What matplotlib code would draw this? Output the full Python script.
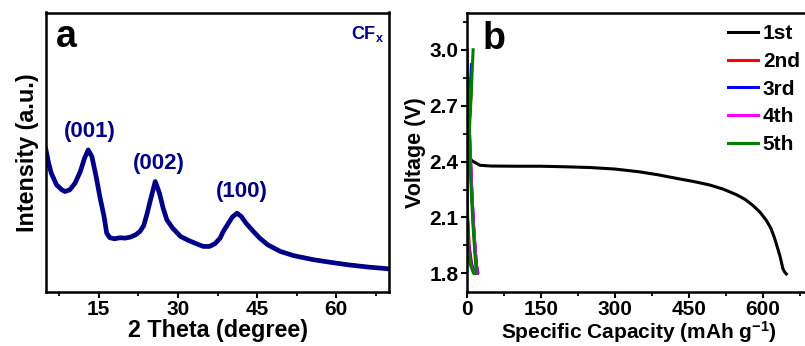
import matplotlib
matplotlib.use("Agg")
import matplotlib.pyplot as plt

plt.rcParams['font.family'] = ['Liberation Sans', 'DejaVu Sans']
plt.rcParams['font.weight'] = 'bold'
plt.rcParams['mathtext.fontset'] = 'custom'
plt.rcParams['mathtext.rm'] = 'Liberation Sans:bold'
plt.rcParams['mathtext.bf'] = 'Liberation Sans:bold'
plt.rcParams['mathtext.default'] = 'bf'

# ---- Panel a: XRD of CFx ----
two_theta = [5, 5.5, 6, 7, 8, 8.6, 9.5, 10.5, 11.5, 12.3, 13, 13.7, 14.5, 15.2, 16, 16.5,
             17.1, 18, 19, 20, 21, 22, 22.8, 23.5, 24.1, 24.8, 25.7, 26.5, 27.2, 27.9, 29,
             30.5, 32, 33.5, 34.8, 36, 37, 38, 38.6, 39.5, 40.3, 41.2, 42, 43, 44.3, 45.5,
             47, 49.4, 52, 55.7, 59, 62.1, 66, 69.7, 70]
intensity = [450, 410, 380, 345, 330, 325, 330, 350, 385, 425, 450, 430, 370, 310, 250, 200,
             186, 183, 186, 185, 188, 195, 205, 222, 255, 300, 355, 320, 275, 240, 215,
             190, 178, 168, 160, 160, 168, 185, 205, 228, 248, 260, 250, 228, 205, 185,
             165, 145, 132, 120, 112, 105, 98, 93, 92]
peak_labels = ['(001)', '(002)', '(100)']
peak_pos = [(13.3, 505), (26.4, 410), (42.1, 325)]

# ---- Panel b: discharge/charge curves ----
cap_1st = [0, 0.5, 2, 5, 10, 27, 50, 100, 150, 200, 250, 300, 350, 390, 425, 460, 493, 520,
           547, 565, 580, 595, 608, 617, 624, 635, 641, 645, 648]
volt_1st = [2.95, 2.7, 2.5, 2.43, 2.405, 2.38, 2.376, 2.375, 2.375, 2.372, 2.368, 2.36,
            2.345, 2.328, 2.31, 2.293, 2.274, 2.252, 2.222, 2.196, 2.165, 2.127, 2.082,
            2.04, 1.99, 1.894, 1.825, 1.805, 1.797]

cap_2nd = [0, 3, 7, 11, 14, 17, 20, 23, 23, 17, 10, 5, 2, 0, 0, 3, 6, 9, 10]
volt_2nd = [3.0, 2.75, 2.45, 2.2, 2.05, 1.93, 1.84, 1.8, 1.8, 1.8, 1.85, 1.95, 2.1, 2.3,
            2.3, 2.5, 2.65, 2.78, 2.9]
cap_3rd = [0, 3, 7, 11, 14, 17, 20, 22, 22, 16, 9, 4, 1.5, 0, 0, 3, 6, 8, 9.5]
volt_3rd = [3.0, 2.75, 2.45, 2.2, 2.05, 1.93, 1.84, 1.8, 1.8, 1.8, 1.85, 1.95, 2.1, 2.3,
            2.3, 2.5, 2.65, 2.8, 2.92]
cap_4th = [0, 3, 7, 11, 14, 17, 19.5, 21.5, 21.5, 15, 8, 3.5, 1, 0, 0, 3, 6, 8, 9]
volt_4th = [3.0, 2.75, 2.45, 2.2, 2.05, 1.93, 1.84, 1.8, 1.8, 1.8, 1.85, 1.95, 2.1, 2.3,
            2.3, 2.5, 2.65, 2.75, 2.78]
cap_5th = [1, 2.5, 6, 10, 13, 16, 18.5, 20, 20, 14, 7, 3, 1, 0, 0, 3, 6, 9, 11, 13]
volt_5th = [2.97, 2.75, 2.45, 2.2, 2.05, 1.93, 1.84, 1.8, 1.8, 1.8, 1.85, 1.95, 2.1, 2.3,
            2.3, 2.45, 2.6, 2.75, 2.88, 3.0]

cycle_labels = ['1st', '2nd', '3rd', '4th', '5th']
cycle_colors = ['black', '#ff0000', '#0000ff', '#ff00ff', '#008000']

fig = plt.figure(figsize=(8.05, 3.46), dpi=100)
axa = fig.add_axes([46/805, 54/346, (389-46)/805, (292-12.5)/346])
axb = fig.add_axes([466.7/805, 54/346, (812-466.7)/805, (292-12.5)/346])

navy = '#000085'
axa.plot(two_theta, intensity, color=navy, lw=3.4)
axa.set_xlim(5, 70)
axa.set_ylim(23, 863)
axa.set_xticks([15, 30, 45, 60])
axa.set_xticks([7.5, 22.5, 37.5, 52.5, 67.5], minor=True)
axa.set_yticks([])
for lab, (px, py) in zip(peak_labels, peak_pos):
    axa.text(px, py, lab, color=navy, fontsize=16, fontweight='bold', ha='center', va='center')
axa.text(0.028, 0.975, 'a', transform=axa.transAxes, fontsize=27, fontweight='bold',
         ha='left', va='top')
axa.text(0.985, 0.96, r'CF$_{x}$', transform=axa.transAxes, fontsize=13, color=navy,
         fontweight='bold', ha='right', va='top')
axa.set_xlabel('2 Theta (degree)', fontsize=16.8, fontweight='bold', labelpad=0)
axa.set_ylabel('Intensity (a.u.)', fontsize=16.8, fontweight='bold', labelpad=5)

caps = [cap_1st, cap_2nd, cap_3rd, cap_4th, cap_5th]
volts = [volt_1st, volt_2nd, volt_3rd, volt_4th, volt_5th]
for c, v, lab, col in zip(caps, volts, cycle_labels, cycle_colors):
    axb.plot(c, v, color=col, lw=2.2, label=lab)
axb.set_xlim(0, 700)
axb.set_ylim(1.7, 3.2)
axb.set_xticks([0, 150, 300, 450, 600])
axb.set_xticks([75, 225, 375, 525, 675], minor=True)
axb.set_yticks([1.8, 2.1, 2.4, 2.7, 3.0])
axb.set_yticks([1.95, 2.25, 2.55, 2.85, 3.15], minor=True)
axb.text(0.045, 0.97, 'b', transform=axb.transAxes, fontsize=27, fontweight='bold',
         ha='left', va='top')
axb.set_xlabel(r'Specific Capacity (mAh g$^{-1}$)', fontsize=15, fontweight='bold', labelpad=0)
axb.set_ylabel('Voltage (V)', fontsize=15.5, fontweight='bold', labelpad=2)
leg = axb.legend(loc='upper left', bbox_to_anchor=(0.757, 0.958), frameon=False,
                 prop={'size': 15, 'weight': 'bold'}, handlelength=1.45, handletextpad=0.22,
                 labelspacing=0.42, borderaxespad=0, borderpad=0)

for ax in (axa, axb):
    for s in ax.spines.values():
        s.set_linewidth(1.8)
    ax.tick_params(which='major', direction='out', length=4, width=1.5, labelsize=15,
                   pad=2)
    ax.tick_params(which='minor', direction='out', length=3, width=1.3)
    for t in ax.get_xticklabels() + ax.get_yticklabels():
        t.set_fontweight('bold')

fig.savefig('out.png', dpi=100)
